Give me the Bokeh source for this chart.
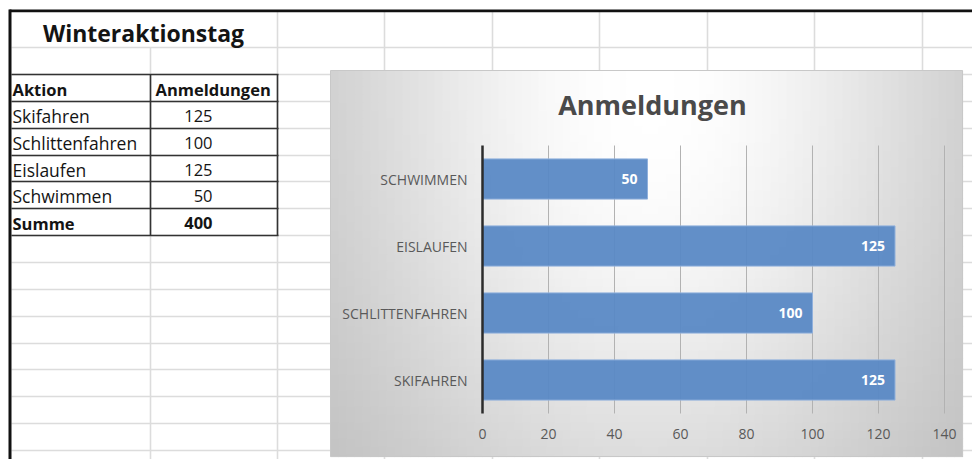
import math
from bokeh.plotting import figure
from bokeh.models import Range1d, LinearAxis, FixedTicker
from bokeh.core.properties import value
from bokeh.embed import file_html
from bokeh.resources import INLINE

# ---------------- data ----------------
sheet_title = "Winteraktionstag"
col_headers = ["Aktion", "Anmeldungen"]
aktionen = ["Skifahren", "Schlittenfahren", "Eislaufen", "Schwimmen"]
anmeldungen = [125, 100, 125, 50]
summe_label = "Summe"
summe_value = 400
chart_title = "Anmeldungen"
x_ticks = [0, 20, 40, 60, 80, 100, 120, 140]

# ---------------- layout constants (pixels) ----------------
W, H = 972, 459
FONT = "Open Sans"
ROW_LINES = [47, 74, 101, 128, 155, 181, 208, 235, 262, 289, 316, 343, 369, 396, 423, 450]
COL_LINES = [150, 277, 384, 492, 599, 707, 814, 922]
TABLE_ROWS = [74, 101, 128, 155, 181, 208, 235]
BOX_L, BOX_T, BOX_R, BOX_B = 330, 70, 962, 456          # chart area
PLOT_L, PLOT_R, PLOT_T, PLOT_B = 482, 944, 145, 413     # plot area inside chart

factors = [a.upper() for a in aktionen]
n = len(factors)
ypos = list(range(n))

p = figure(width=W, height=H, output_backend="svg", toolbar_location=None,
           x_range=Range1d(0, W), y_range=Range1d(H, 0),
           x_axis_type=None, y_axis_type=None, min_border=0, title=None)
p.outline_line_color = None
p.background_fill_color = "white"
p.border_fill_color = "white"

# extra ranges for the bar chart, placed so the plot area falls on PLOT_*
v0, v1 = x_ticks[0], x_ticks[-1]
ppu = (PLOT_R - PLOT_L) / (v1 - v0)
p.extra_x_ranges = {"val": Range1d(v0 + (0 - PLOT_L) / ppu, v0 + (W - PLOT_L) / ppu)}
cpu = (PLOT_B - PLOT_T) / n
p.extra_y_ranges = {"cat": Range1d(-0.5 + (PLOT_B - H) / cpu, -0.5 + (PLOT_B - 0) / cpu)}

# ---------------- spreadsheet ----------------
GRID = "#dcdcdc"
L, R, T, B = [], [], [], []
for y in ROW_LINES:
    L.append(11); R.append(W); T.append(y - 0.8); B.append(y + 0.8)
for x in COL_LINES:
    L.append(x - 0.8); R.append(x + 0.8); T.append(47 if x == 150 else 11); B.append(H)
p.quad(left=L, right=R, top=T, bottom=B, fill_color=GRID, line_color=None)

L, R, T, B = [], [], [], []
for y in TABLE_ROWS:
    L.append(11); R.append(278); T.append(y - 0.8); B.append(y + 0.8)
for x in (150, 277):
    L.append(x - 0.8); R.append(x + 0.8); T.append(TABLE_ROWS[0]); B.append(TABLE_ROWS[-1])
p.quad(left=L, right=R, top=T, bottom=B, fill_color="#333333", line_color=None)

# thick page borders
p.quad(left=[9, 8], right=[W, 11], top=[9, 9], bottom=[11.8, H],
       fill_color="#111111", line_color=None)

TXT = "#141414"
p.text(x=[143], y=[32], text=[sheet_title], text_align="center", text_baseline="middle",
       text_font=value(FONT), text_font_style="bold", text_font_size="23px",
       text_color=TXT)
row_c = [(TABLE_ROWS[i] + TABLE_ROWS[i + 1]) / 2 + 1 for i in range(len(TABLE_ROWS) - 1)]
p.text(x=[12, 155, 12], y=[row_c[0], row_c[0], row_c[-1]],
       text=[col_headers[0], col_headers[1], summe_label],
       text_baseline="middle", text_font=value(FONT), text_font_style="bold",
       text_font_size="16.5px", text_color=TXT)
p.text(x=[12] * n, y=row_c[1:1 + n], text=aktionen, text_baseline="middle",
       text_font=value(FONT), text_font_size="17.5px", text_color=TXT)
p.text(x=[212] * n, y=row_c[1:1 + n], text=[str(v) for v in anmeldungen],
       text_align="right", text_baseline="middle",
       text_font=value(FONT), text_font_size="16.5px", text_color=TXT)
p.text(x=[212], y=[row_c[-1]], text=[str(summe_value)], text_align="right",
       text_baseline="middle", text_font=value(FONT), text_font_style="bold",
       text_font_size="16.5px", text_color=TXT)

# ---------------- chart area background (radial-ish gradient) ----------------
CX, CY = 650, 95
DMAX, AX, BY = 78, 0.88, 0.58
gl, gr, gt, gb, gc = [], [], [], [], []
step = 8
yy = BOX_T
while yy < BOX_B:
    ye = min(yy + step, BOX_B)
    xx = BOX_L
    while xx < BOX_R:
        xe = min(xx + step, BOX_R)
        xm, ym = (xx + xe) / 2, (yy + ye) / 2
        dx = (xm - CX) / ((CX - BOX_L) if xm < CX else (BOX_R - CX))
        dy = max(0.0, ym - CY) / (BOX_B - CY)
        d = DMAX * (1 - math.exp(-(AX * dx * dx + BY * dy * dy)))
        g = int(round(255 - d))
        gl.append(xx); gr.append(xe + 0.6); gt.append(yy); gb.append(ye + 0.6)
        gc.append("#%02x%02x%02x" % (g, g, g))
        xx = xe
    yy = ye
p.quad(left=gl, right=gr, top=gt, bottom=gb, fill_color=gc, line_color=None)
p.quad(left=[BOX_L], right=[BOX_R], top=[BOX_T], bottom=[BOX_B],
       fill_color=None, line_color="#c8c8c8", line_width=1)

p.text(x=[652], y=[104], text=[chart_title], text_align="center", text_baseline="middle",
       text_font=value(FONT), text_font_style="bold", text_font_size="27px",
       text_color="#4a4a4a")

# ---------------- bar chart ----------------
gx = [t for t in x_ticks if t != x_ticks[0]]
p.segment(x0=gx, x1=gx, y0=[-0.5] * len(gx), y1=[n - 0.5] * len(gx),
          x_range_name="val", y_range_name="cat", line_color="#b2b2b2", line_width=1)
p.hbar(y=ypos, right=anmeldungen, left=0, height=0.6,
       x_range_name="val", y_range_name="cat",
       fill_color="#5a89c5", fill_alpha=0.95, line_color="#90b0dc", line_width=1)
p.text(x=anmeldungen, y=ypos, text=[str(v) for v in anmeldungen],
       x_range_name="val", y_range_name="cat",
       x_offset=-10, text_align="right", text_baseline="middle",
       text_color="white", text_font_style="bold", text_font_size="14px",
       text_font=value(FONT))

xaxis = LinearAxis(x_range_name="val", fixed_location=PLOT_B,
                   bounds=(x_ticks[0], x_ticks[-1]), ticker=FixedTicker(ticks=x_ticks))
xaxis.axis_line_color = None
xaxis.major_tick_line_color = None
xaxis.minor_tick_line_color = None
xaxis.major_tick_out = 0
xaxis.major_tick_in = 0
xaxis.major_label_standoff = 15
xaxis.major_label_text_font = FONT
xaxis.major_label_text_font_size = "14px"
xaxis.major_label_text_color = "#595959"
p.add_layout(xaxis, "below")

yaxis = LinearAxis(y_range_name="cat", fixed_location=PLOT_L,
                   bounds=(-0.5, n - 0.5), ticker=FixedTicker(ticks=ypos),
                   major_label_overrides={i: f for i, f in zip(ypos, factors)})
yaxis.axis_line_color = "#2b2b2b"
yaxis.axis_line_width = 2.5
yaxis.major_tick_line_color = None
yaxis.minor_tick_line_color = None
yaxis.major_tick_out = 0
yaxis.major_tick_in = 0
yaxis.major_label_standoff = 15
yaxis.major_label_text_font = FONT
yaxis.major_label_text_font_size = "14px"
yaxis.major_label_text_color = "#595959"
p.add_layout(yaxis, "left")

open("out.html", "w").write(file_html(p, INLINE))
